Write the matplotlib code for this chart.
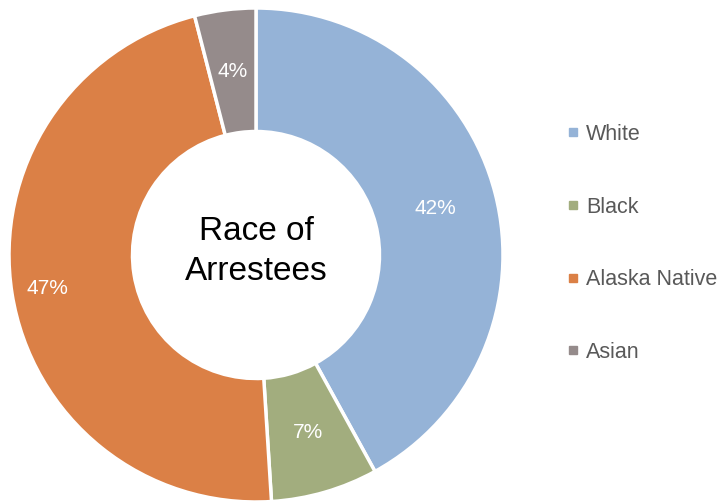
import matplotlib
matplotlib.use("Agg")
import matplotlib.pyplot as plt
from matplotlib.lines import Line2D

labels = ['White', 'Black', 'Alaska Native', 'Asian']
values = [42, 7, 47, 4]
colors = ['#95B3D7', '#A2AD7E', '#DB8046', '#958B8B']

plt.rcParams['font.family'] = ['Liberation Sans', 'DejaVu Sans']

fig = plt.figure(figsize=(7.23, 5.03), dpi=100)
# pie area: center (256,255) px, radius 247 px
ax = fig.add_axes([9 / 723, 1 / 503, 494 / 723, 494 / 503])
wedges, texts, autotexts = ax.pie(values, colors=colors, startangle=90, counterclock=False,
                                  radius=1, autopct='%1.0f%%', pctdistance=0.75,
                                  wedgeprops=dict(width=0.5, edgecolor='white', linewidth=2.5),
                                  textprops=dict(color='white', fontsize=15))
# excel pushes the big slice label a bit further out
px, py = autotexts[2].get_position()
autotexts[2].set_position((px * 1.14, py * 1.14))

ax.set_xlim(-1, 1)
ax.set_ylim(-1, 1)
ax.set_aspect('equal')
ax.axis('off')
ax.text(0, 0.015, 'Race of\nArrestees', ha='center', va='center', fontsize=24,
        color='black', linespacing=1.38)

handles = [Line2D([], [], marker='s', linestyle='', markersize=5.5, color=c) for c in colors]
leg = fig.legend(handles, labels, loc='upper left', bbox_to_anchor=(568 / 723, 1 - 124 / 503),
                 frameon=False, fontsize=15.5, labelspacing=2.4, handlelength=0.5,
                 handletextpad=0.33, borderpad=0, borderaxespad=0)
for t in leg.get_texts():
    t.set_color('#595959')

fig.savefig('out.png', dpi=100)
